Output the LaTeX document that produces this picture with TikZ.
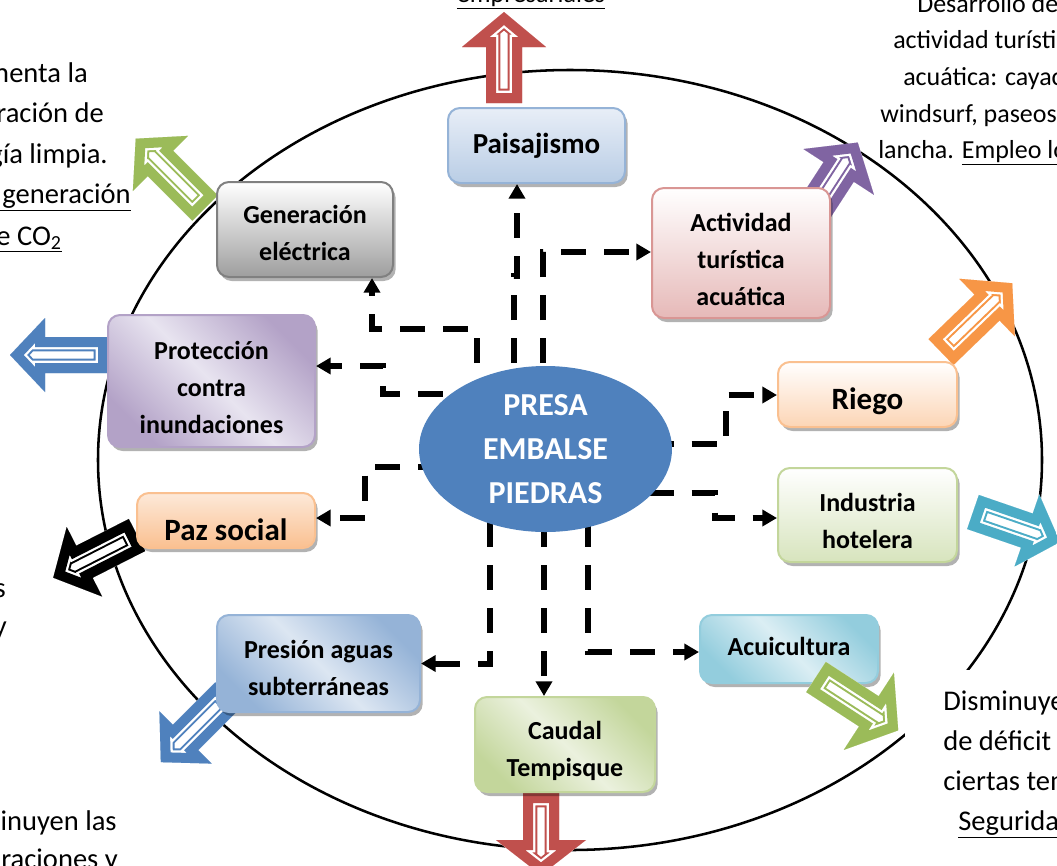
\documentclass[tikz,border=0pt]{standalone}
\usepackage{fontspec}
\setmainfont{Carlito}
\usetikzlibrary{arrows.meta,calc,shadows,backgrounds,shapes.geometric}

\definecolor{redA}{HTML}{C0504D}
\definecolor{greenA}{HTML}{9BBB59}
\definecolor{purpleA}{HTML}{8064A2}
\definecolor{orangeA}{HTML}{F79646}
\definecolor{blueA}{HTML}{4F81BD}
\definecolor{tealA}{HTML}{4BACC6}

% flecha ancha hueca: color, cola, angulo, largo, media cabeza
\newcommand{\hollowarrow}[5]{%
	\begin{scope}[shift={#2},x=0.75pt,y=0.75pt,rotate=#3,line join=miter]
		\def\shp{(0,-18) -- (#4-35,-18) -- (#4-35,-#5) -- (#4,0) -- (#4-35,#5) -- (#4-35,18) -- (0,18) -- cycle}
		\begin{scope}
			\clip \shp;
			\fill[white] \shp;
			\draw[#1,line width=21.4pt] \shp;
			\draw[white,line width=18.4pt] \shp;
			\draw[#1,line width=15pt] \shp;
		\end{scope}
	\end{scope}}

\begin{document}
\begin{tikzpicture}[x=0.75pt,y=-0.75pt,line join=round,
	box/.style={line width=1.5pt,rounded corners=9pt,inner sep=0pt,
		drop shadow={shadow xshift=2pt,shadow yshift=-3pt,fill=black,opacity=0.3}},
	boxtext/.style={align=center,inner sep=0pt,yshift=-4.5pt,font=\fontsize{19.5}{27.75}\selectfont\bfseries},
	link/.style={line width=4.5pt,line cap=butt,line join=miter,dash pattern=on 18.75pt off 13.5pt,-{Triangle[length=11pt,width=12pt]}},
	txt/.style={font=\fontsize{21.4}{26}\selectfont,inner sep=0pt}]
	\useasboundingbox (0,0) rectangle (1057,865);
	\clip (0,0) rectangle (1057,865);
	% contorno
	\draw[line width=1.9pt] (570,460) ellipse [x radius=354pt,y radius=292.5pt];
	\fill[white] (905,670) rectangle (1060,870);
	% textos
	\foreach \x/\y/\t in {88/82/{Aumenta la},104/122/{generación de},108/163/{energía limpia.},131/203/{\underline{Disminuye la generación}},62/245/{\underline{de CO\textsubscript{2}}},6/597/{s},7/635/{y},117/830/{Disminuyen las},118/868/{raciones y}}
		{\node[txt,anchor=base east] at (\x,\y) {\t};}
	\foreach \x/\y/\t in {943/710/{Disminuye el},943/750/{de déficit hídrico},943/790/{ciertas temporadas.},958/830/{\underline{Seguridad}}}
		{\node[txt,anchor=base west] at (\x,\y) {\t};}
	\foreach \x/\y/\t in {917/12/{Desarrollo de la},893/48/{actividad turística},903/85/{acuática: cayac},880/122/{windsurf, paseos en},878/158/{lancha. \underline{Empleo local}}}
		{\node[txt,font=\fontsize{19.5}{24}\selectfont,anchor=base west] at (\x,\y) {\t};}
	\node[txt,font=\fontsize{19.5}{24}\selectfont,anchor=base] at (531,2) {\underline{empresariales}};
	% flechas anchas
	\hollowarrow{redA}{(504,103)}{90}{91}{42}
	\hollowarrow{greenA}{(205,208)}{135}{98}{39}
	\hollowarrow{purpleA}{(812,213)}{57}{84}{42}
	\hollowarrow{orangeA}{(941,352)}{44}{99}{40}
	\hollowarrow{blueA}{(108,355)}{180}{98}{37}
	\hollowarrow{black}{(137,535)}{207}{94}{39}
	\hollowarrow{tealA}{(973,512)}{-19}{92}{38}
	\hollowarrow{blueA}{(228,695)}{225}{95}{37}
	\hollowarrow{redA}{(541,793)}{-90}{82}{45}
	% cajas
	\node[box,draw=black!50,top color=white,bottom color=black!38,minimum width=132pt,minimum height=71.25pt,
		label={[boxtext,yshift=2pt]center:Generación\\eléctrica}] (gen) at (305,229.5) {};
	\node[box,draw={rgb,255:red,149;green,179;blue,215},top color={rgb,255:red,232;green,238;blue,247},bottom color={rgb,255:red,185;green,205;blue,229},minimum width=132.75pt,minimum height=56.25pt,
		label={[boxtext,yshift=4.5pt,font=\fontsize{21.75}{26}\selectfont\bfseries]center:Paisajismo}] (pais) at (536.5,145.5) {};
	\node[box,draw={rgb,255:red,217;green,150;blue,148},top color=white,bottom color={rgb,255:red,230;green,185;blue,184},minimum width=133.5pt,minimum height=97.5pt,
		label={[boxtext]center:Actividad\\turística\\acuática}] (act) at (741,253) {};
	\node[box,draw={rgb,255:red,179;green,162;blue,199},top color={rgb,255:red,179;green,162;blue,199},bottom color={rgb,255:red,179;green,162;blue,199},middle color={rgb,255:red,232;green,228;blue,240},shading angle=-45,minimum width=155.25pt,minimum height=99pt,
		label={[boxtext,yshift=-0.5pt]center:Protección\\contra\\inundaciones}] (prot) at (211.5,381) {};
	\node[box,draw={rgb,255:red,250;green,192;blue,144},top color=white,bottom color={rgb,255:red,252;green,213;blue,181},minimum width=134.25pt,minimum height=48.75pt,
		label={[boxtext,yshift=-0.75pt,font=\fontsize{23.25}{28}\selectfont\bfseries]center:Riego}] (riego) at (867.5,394.5) {};
	\node[box,draw={rgb,255:red,195;green,214;blue,155},top color=white,bottom color={rgb,255:red,215;green,228;blue,189},minimum width=134.25pt,minimum height=70.5pt,
		label={[boxtext]center:Industria\\hotelera}] (ind) at (867.5,515) {};
	\node[box,draw={rgb,255:red,250;green,192;blue,144},top color={rgb,255:red,253;green,233;blue,217},bottom color={rgb,255:red,250;green,192;blue,144},minimum width=133.5pt,minimum height=41.25pt,
		label={[boxtext,yshift=-2.25pt,font=\fontsize{23.25}{28}\selectfont\bfseries]center:Paz social}] (paz) at (226,520.5) {};
	\node[box,draw={rgb,255:red,149;green,179;blue,215},top color={rgb,255:red,149;green,179;blue,215},bottom color={rgb,255:red,149;green,179;blue,215},middle color={rgb,255:red,220;green,230;blue,242},shading angle=-45,minimum width=152.25pt,minimum height=72.75pt,
		label={[boxtext,yshift=1pt]center:Presión aguas\\subterráneas}] (pres) at (318.5,663.5) {};
	\node[box,draw={rgb,255:red,195;green,214;blue,155},top color={rgb,255:red,195;green,214;blue,155},bottom color={rgb,255:red,195;green,214;blue,155},middle color={rgb,255:red,235;green,241;blue,222},shading angle=-45,minimum width=135pt,minimum height=71.25pt,
		label={[boxtext]center:Caudal\\Tempisque}] (caudal) at (565,744.5) {};
	\node[box,draw={rgb,255:red,147;green,205;blue,221},top color={rgb,255:red,147;green,205;blue,221},bottom color={rgb,255:red,147;green,205;blue,221},middle color={rgb,255:red,219;green,238;blue,244},shading angle=-45,minimum width=133.5pt,minimum height=51pt,
		label={[boxtext,yshift=6.75pt]center:Acuicultura}] (acui) at (789,649) {};
	\hollowarrow{greenA}{(816,677)}{-33}{98}{46}
	% centro
	\node[ellipse,fill=blueA,text=white,align=center,inner sep=0pt,minimum width=189.75pt,minimum height=124.5pt,font=\fontsize{24}{33}\selectfont\bfseries] (presa) at (545.5,449) {PRESA\\EMBALSE\\PIEDRAS};
	% conectores
	\begin{scope}[on background layer]
		\draw[link] ($(presa)+(-32,0)$) |- ($(pais.south)+(-19.5,92)$) -- ($(pais.south)+(-19.5,0)$);
		\draw[link] ($(presa)+(-2.5,0)$) |- ($(act.west)+(0,-1)$);
		\draw[link] ($(presa)+(-68.5,0)$) |- ($(gen.south)+(67,51)$) -- ($(gen.south)+(67,0)$);
		\draw[link] ($(presa)+(-60,-55)$) -- ++(-102.5,0) |- ($(prot.east)+(0,-15)$);
		\draw[link] ($(presa)+(-60,18)$) -- ++(-120.5,0) |- ($(paz.east)+(0,-2.5)$);
		\draw[link] ($(presa)+(-55.5,30)$) |- (pres.east);
		\draw[link] ($(presa)+(-1.5,30)$) -- ($(caudal.north)+(-21,0)$);
		\draw[link] ($(presa)+(42.5,30)$) |- ($(acui.west)+(0,3)$);
		\draw[link] ($(presa)+(60,-5)$) -- ++(120.5,0) |- ($(riego.west)+(0,0.5)$);
		\draw[link] ($(presa)+(60,44)$) -- ++(109.5,0) |- ($(ind.west)+(0,3)$);
	\end{scope}
\end{tikzpicture}
\end{document}
